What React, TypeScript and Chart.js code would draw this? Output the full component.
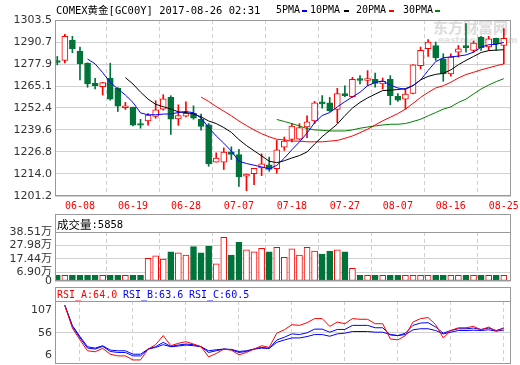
import React, { useEffect, useRef } from 'react';
import { Chart, registerables } from 'chart.js';

Chart.register(...registerables);

const dates = ['06-05','06-06','06-07','06-08','06-09','06-12','06-13','06-14','06-15','06-16','06-19','06-20','06-21','06-22','06-23','06-26','06-27','06-28','06-29','06-30','07-03','07-04','07-05','07-06','07-07','07-10','07-11','07-12','07-13','07-14','07-17','07-18','07-19','07-20','07-21','07-24','07-25','07-26','07-27','07-28','07-31','08-01','08-02','08-03','08-04','08-07','08-08','08-09','08-10','08-11','08-14','08-15','08-16','08-17','08-18','08-21','08-22','08-23','08-24','08-25'];
const tickDates = ['06-08','06-19','06-28','07-07','07-18','07-27','08-07','08-16','08-25'];

const openP = [1279.9,1280.0,1291.7,1285.4,1278.4,1266.7,1264.8,1269.6,1264.0,1252.6,
 1252.7,1243.3,1244.9,1247.4,1251.7,1258.5,1246.0,1247.6,1249.3,1245.8,
 1242.5,1220.9,1220.9,1226.9,1225.3,1212.7,1214.2,1217.5,1219.3,1217.1,
 1229.6,1234.1,1234.3,1241.3,1244.9,1255.9,1255.4,1251.5,1260.8,1258.9,
 1269.5,1268.4,1269.0,1266.3,1269.0,1259.1,1257.5,1260.8,1277.0,1286.8,
 1288.7,1280.9,1272.2,1284.8,1288.7,1285.8,1293.6,1287.8,1292.8,1288.7];
const highP = [1282.3,1295.2,1294.0,1287.8,1278.6,1269.6,1267.3,1278.4,1264.2,1255.6,
 1252.9,1245.8,1249.1,1256.6,1260.1,1259.5,1254.2,1256.0,1253.6,1248.8,
 1243.3,1226.3,1229.2,1229.8,1228.3,1214.0,1217.3,1225.7,1223.8,1233.5,
 1235.5,1243.3,1243.3,1247.8,1256.2,1259.5,1258.5,1263.8,1265.3,1270.2,
 1271.2,1274.1,1272.6,1269.8,1271.2,1260.8,1263.4,1277.6,1287.8,1292.1,
 1290.7,1283.9,1283.9,1288.7,1301.4,1291.3,1294.0,1294.0,1293.0,1298.5];
const lowP = [1277.4,1278.6,1284.5,1268.7,1264.4,1263.4,1259.9,1256.9,1250.3,1251.5,
 1242.0,1240.6,1242.3,1246.4,1251.1,1237.0,1242.3,1247.2,1245.8,1239.4,
 1218.5,1220.9,1216.6,1222.4,1206.8,1204.3,1207.8,1213.0,1215.6,1214.4,
 1227.7,1232.6,1233.9,1235.1,1243.3,1252.3,1250.3,1243.7,1258.9,1258.5,
 1266.3,1265.3,1264.4,1263.4,1254.2,1256.2,1251.7,1260.5,1275.1,1282.3,
 1280.0,1267.9,1270.8,1281.9,1284.8,1284.8,1285.8,1285.8,1285.8,1278.0];
const closeP = [1278.9,1294.0,1286.8,1278.0,1266.3,1265.3,1267.1,1257.5,1253.4,1253.6,
 1242.3,1242.3,1248.2,1251.3,1257.7,1245.8,1248.0,1249.3,1246.4,1241.7,
 1219.9,1223.2,1226.7,1225.3,1212.3,1214.0,1217.3,1219.9,1216.6,1228.1,
 1233.1,1241.9,1240.9,1244.3,1255.4,1254.7,1250.7,1260.7,1259.5,1269.0,
 1268.4,1269.5,1266.7,1267.9,1259.5,1256.9,1260.5,1277.4,1285.8,1290.7,
 1281.5,1272.2,1281.9,1286.8,1287.4,1290.1,1287.4,1292.6,1289.7,1292.8];

const ma5 = [null,null,null,null,1280.8,1278.0,1272.9,1267.3,1263.4,1259.9,
 1255.6,1249.5,1248.4,1248.4,1248.8,1248.9,1249.7,1250.3,1249.6,1246.5,
 1241.0,1236.1,1231.9,1227.3,1221.4,1220.1,1219.1,1218.1,1217.0,1219.0,
 1223.2,1228.1,1232.6,1237.8,1243.8,1248.0,1249.7,1253.0,1256.0,1258.8,
 1261.5,1265.3,1267.2,1268.1,1265.6,1264.0,1263.2,1265.3,1268.6,1274.2,
 1279.3,1281.5,1282.1,1282.5,1283.2,1284.8,1287.7,1289.1,1289.3,1290.5];
const ma10 = [null,null,null,null,null,null,null,null,null,1270.0,
 1266.3,1261.6,1257.5,1254.5,1253.1,1251.8,1250.1,1249.7,1248.9,1247.2,
 1244.8,1243.3,1241.0,1238.2,1234.0,1230.5,1227.5,1224.5,1221.4,1220.6,
 1221.7,1223.3,1224.7,1226.8,1231.4,1235.7,1239.3,1243.0,1247.9,1252.3,
 1255.6,1258.2,1260.4,1262.5,1262.7,1263.1,1263.6,1265.4,1268.7,1270.7,
 1271.9,1272.5,1274.5,1277.5,1280.0,1282.3,1284.6,1285.7,1286.0,1286.2];
const ma20 = [null,null,null,null,null,null,null,null,null,null,
 null,null,null,null,null,null,null,null,null,1258.7,
 1256.2,1253.2,1250.5,1247.8,1244.8,1242.1,1239.6,1237.4,1235.6,1234.2,
 1233.8,1233.1,1233.1,1232.7,1232.7,1232.7,1233.1,1233.5,1234.7,1236.1,
 1238.0,1240.0,1242.5,1244.9,1247.0,1249.1,1251.7,1255.0,1258.5,1261.4,
 1264.0,1265.3,1267.3,1269.8,1271.8,1273.1,1274.5,1275.7,1276.9,1278.0];
const ma30 = [null,null,null,null,null,null,null,null,null,null,
 null,null,null,null,null,null,null,null,null,null,
 null,null,null,null,null,null,null,null,null,1245.7,
 1244.5,1243.3,1241.9,1240.4,1239.6,1239.4,1239.0,1239.0,1239.0,1239.6,
 1240.6,1241.3,1241.9,1242.5,1242.9,1242.9,1243.3,1244.5,1245.8,1247.8,
 1249.7,1251.7,1253.0,1255.6,1257.5,1260.5,1263.4,1265.7,1267.7,1269.4];

// volume in 万 (10k)
const volume = [4.5,4.5,4.5,4.5,4.5,4.5,4.5,4.5,4.5,4.5,
 4.5,4.5,17.8,19.7,17.3,23.0,22.2,20.4,27.0,22.2,
 27.5,13.4,34.4,20.4,30.4,24.4,23.0,25.7,23.0,26.5,
 18.6,25.2,20.4,26.5,23.6,21.2,23.6,24.4,23.0,10.0,
 4.5,4.5,4.5,4.5,4.5,4.5,4.5,4.5,4.5,4.5,
 4.5,4.5,4.5,4.5,4.5,4.5,4.5,4.5,4.5,4.5];

const rsiA = [null,100,63.6,44.6,27.2,25.6,31.0,21.7,19.0,19.0,
 12.5,12.5,29.9,37.0,51.6,35.3,39.1,41.8,38.0,33.7,
 17.4,22.8,29.9,28.3,20.7,24.5,29.9,35.3,32.6,55.4,
 60.8,69.0,67.9,72.2,78.8,78.8,66.3,73.3,70.6,78.8,
 77.7,77.7,70.6,70.6,46.2,44.6,51.6,73.3,78.8,80.4,
 69.0,47.8,59.7,64.1,64.1,66.3,60.8,65.2,58.7,64.0];
const rsiB = [null,100,66.3,47.8,31.5,29.9,34.2,26.1,24.5,24.5,
 19.0,19.0,29.9,33.7,40.7,34.2,36.4,38.0,37.0,33.7,
 24.5,27.2,29.9,28.8,24.5,26.1,29.9,32.6,31.0,44.5,
 48.9,54.3,53.2,56.0,61.9,61.9,57.0,61.4,61.4,67.9,
 67.9,67.9,64.1,64.1,52.7,51.6,55.4,67.9,71.7,72.2,
 65.2,55.4,59.7,62.5,62.5,63.6,61.4,63.6,59.7,63.6];
const rsiC = [null,100,67.4,50.0,33.7,31.5,35.3,28.3,27.2,27.2,
 21.7,21.7,29.9,32.6,37.0,33.7,34.8,36.4,35.3,33.7,
 27.2,28.8,29.9,29.4,26.1,27.2,29.9,31.5,31.0,40.7,
 44.5,47.8,47.8,50.0,53.2,53.2,50.5,54.3,55.4,58.1,
 58.1,58.1,57.0,57.0,53.2,51.6,53.2,60.8,62.5,62.5,
 59.7,54.3,57.0,59.7,59.7,60.2,59.7,60.8,58.7,60.5];

const priceTicks = [1201.2,1214.0,1226.8,1239.6,1252.4,1265.1,1277.9,1290.7,1303.5];
const volTicks = [0,6.90,17.44,27.98,38.51];
const rsiTicks = [6,56,107];

const RED = '#FF0000';
const GREEN = '#00733A';
const GRID = '#D0D0D0';
const FRAME = '#999999';
const LABEL = '#333333';

const tickIdx = tickDates.map((d) => dates.indexOf(d));
const idx = dates.map((_, i) => i);
const isUp = idx.map((i) => closeP[i] >= openP[i]);

const framePlugin = {
  id: 'frame',
  afterDraw(chart: any) {
    const { ctx, chartArea: a } = chart;
    const l = Math.round(a.left), t = Math.round(a.top), r = Math.round(a.right), b = Math.round(a.bottom);
    ctx.save();
    ctx.strokeStyle = FRAME;
    ctx.lineWidth = 1;
    ctx.strokeRect(l + 0.5, t + 0.5, r - l - 1, b - t - 1);
    ctx.restore();
  },
};

const xScale = (showLabels: boolean) => ({
  type: 'linear',
  min: -0.3,
  max: 59.95,
  offset: false,
  afterBuildTicks: (s: any) => { s.ticks = tickIdx.map((v) => ({ value: v })); },
  afterFit: (s: any) => { s.height = showLabels ? 19 : 0; s.paddingLeft = 0; s.paddingRight = 0; },
  ticks: {
    display: showLabels,
    autoSkip: false,
    maxRotation: 0,
    padding: 4,
    color: RED,
    font: { family: 'DejaVu Sans Mono', size: 10 },
    callback: (v: any) => dates[v],
  },
  grid: { color: GRID, drawTicks: false, lineWidth: 1 },
  border: { display: false, dash: [4, 3] },
});

const yFit = (s: any) => { s.width = 55; s.paddingTop = 0; s.paddingBottom = 0; };

const baseOpts = (padding: any) => ({
  animation: false,
  responsive: false,
  maintainAspectRatio: false,
  devicePixelRatio: 1,
  events: [],
  layout: { padding },
  plugins: { legend: { display: false }, tooltip: { enabled: false }, title: { display: false } },
});

const line = (data: (number | null)[], color: string, order = 0) => ({
  type: 'line',
  data: idx.map((i) => ({ x: i, y: data[i] })),
  borderColor: color,
  borderWidth: 1,
  pointRadius: 0,
  tension: 0,
  spanGaps: false,
  order,
});

export default function App() {
  const mainRef = useRef<HTMLCanvasElement>(null);
  const volRef = useRef<HTMLCanvasElement>(null);
  const rsiRef = useRef<HTMLCanvasElement>(null);

  useEffect(() => {
    const charts: Chart[] = [];

    charts.push(new Chart(mainRef.current as HTMLCanvasElement, {
      type: 'bar',
      data: {
        datasets: [
          line(ma5, '#0000FF'),
          line(ma10, '#000000'),
          line(ma20, RED),
          line(ma30, '#008000'),
          {
            type: 'bar',
            data: idx.map((i) => ({ x: i, y: [openP[i], closeP[i]] })),
            backgroundColor: idx.map((i) => (isUp[i] ? '#FFFFFF' : GREEN)),
            borderColor: idx.map((i) => (isUp[i] ? RED : GREEN)),
            borderWidth: 1,
            borderSkipped: false,
            barThickness: 6,
            grouped: false,
            order: 1,
          },
          {
            type: 'bar',
            data: idx.map((i) => ({ x: i, y: [lowP[i], highP[i]] })),
            backgroundColor: idx.map((i) => (isUp[i] ? RED : GREEN)),
            borderWidth: 0,
            barThickness: 1,
            grouped: false,
            order: 2,
          },
        ] as any,
      },
      options: {
        ...baseOpts({ left: 0, right: 9, top: 20, bottom: 0 }),
        scales: {
          x: xScale(true),
          y: {
            min: 1201.2,
            max: 1303.5,
            afterBuildTicks: (s: any) => { s.ticks = priceTicks.map((v) => ({ value: v })); },
            afterFit: yFit,
            ticks: { autoSkip: false, color: LABEL, padding: 3, font: { family: 'DejaVu Sans', size: 11 }, callback: (v: any) => Number(v).toFixed(1) },
            grid: { color: GRID, drawTicks: false },
            border: { display: false },
          },
        },
      } as any,
      plugins: [framePlugin],
    }));

    charts.push(new Chart(volRef.current as HTMLCanvasElement, {
      type: 'bar',
      data: {
        datasets: [
          {
            data: idx.map((i) => ({ x: i, y: volume[i] })),
            backgroundColor: idx.map((i) => (isUp[i] ? '#FFFFFF' : GREEN)),
            borderColor: idx.map((i) => (isUp[i] ? RED : GREEN)),
            borderWidth: 1,
            borderSkipped: false,
            barThickness: 6,
            grouped: false,
          },
        ] as any,
      },
      options: {
        ...baseOpts({ left: 0, right: 9, top: 18, bottom: 9 }),
        scales: {
          x: xScale(false),
          y: {
            min: 0,
            max: 38.51,
            afterBuildTicks: (s: any) => { s.ticks = volTicks.map((v) => ({ value: v })); },
            afterFit: yFit,
            ticks: {
              autoSkip: false,
              color: LABEL, padding: 3,
              font: { family: '"DejaVu Sans", "Noto Sans CJK SC"', size: 11 },
              callback: (v: any) => (Number(v) === 0 ? '0' : Number(v).toFixed(2) + '万'),
            },
            grid: { color: GRID, drawTicks: false },
            border: { display: false },
          },
        },
      } as any,
      plugins: [framePlugin],
    }));

    charts.push(new Chart(rsiRef.current as HTMLCanvasElement, {
      type: 'line',
      data: {
        datasets: [
          line(rsiA, RED, 0),
          line(rsiB, '#0000FF', 1),
          line(rsiC, '#0000FF', 2),
        ] as any,
      },
      options: {
        ...baseOpts({ left: 0, right: 9, top: 17, bottom: 1 }),
        scales: {
          x: xScale(false),
          y: { display: false, min: 6, max: 107 },
          y2: {
            position: 'left',
            min: -12.8,
            max: 127,
            afterBuildTicks: (s: any) => { s.ticks = rsiTicks.map((v) => ({ value: v })); },
            afterFit: yFit,
            ticks: { autoSkip: false, color: LABEL, padding: 3, font: { family: 'DejaVu Sans', size: 11 }, callback: (v: any) => String(v) },
            grid: {
              drawTicks: false,
              color: (ctx: any) => (ctx.tick && ctx.tick.value === 56 ? GRID : 'rgba(0,0,0,0)'),
            },
            border: { display: false },
          },
        },
      } as any,
      plugins: [framePlugin],
    }));

    return () => { charts.forEach((c) => c.destroy()); };
  }, []);

  const mono = '"DejaVu Sans Mono", "Noto Sans CJK SC", monospace';
  const abs = (left: number, top: number, extra: any = {}) => ({ position: 'absolute' as const, left, top, whiteSpace: 'nowrap' as const, ...extra });
  const dash = (left: number, color: string) => (
    <div style={abs(left, 10, { width: 5, height: 2, background: color })} />
  );

  return (
    <div style={{ position: 'absolute', left: 0, top: 0, width: 520, height: 365, background: '#FFFFFF', overflow: 'hidden', fontFamily: mono }}>
      <div style={abs(433, 18, { fontFamily: '"Noto Sans CJK SC"', fontWeight: 700, fontSize: 15, lineHeight: '18px', color: '#DCDCDC' })}>东方财富网</div>
      <div style={abs(438, 35, { fontFamily: '"DejaVu Sans"', fontWeight: 700, fontSize: 9, lineHeight: '10px', color: '#E2E2E2' })}>eastmoney.com</div>

      <canvas ref={mainRef} width={520} height={215} style={{ position: 'absolute', left: 0, top: 0 }} />
      <canvas ref={volRef} width={520} height={76} style={{ position: 'absolute', left: 0, top: 214 }} />
      <canvas ref={rsiRef} width={520} height={81} style={{ position: 'absolute', left: 0, top: 284 }} />

      <div style={abs(56, 4, { fontSize: 10.5, lineHeight: '12px', color: '#000' })}>COMEX黄金[GC00Y] 2017-08-26 02:31</div>
      <div style={abs(276, 4, { fontSize: 10, lineHeight: '12px', color: '#000' })}>5PMA</div>
      {dash(302, '#0000FF')}
      <div style={abs(310, 4, { fontSize: 10, lineHeight: '12px', color: '#000' })}>10PMA</div>
      {dash(344, '#000000')}
      <div style={abs(356, 4, { fontSize: 10, lineHeight: '12px', color: '#000' })}>20PMA</div>
      {dash(389, RED)}
      <div style={abs(403, 4, { fontSize: 10, lineHeight: '12px', color: '#000' })}>30PMA</div>
      {dash(435, '#008000')}

      <div style={abs(55, 214, { width: 456, height: 19, boxSizing: 'border-box', border: `1px solid ${FRAME}`, display: 'flex', alignItems: 'center', paddingLeft: 1 })}>
        <span style={{ fontFamily: '"Noto Sans CJK SC"', fontSize: 11.5, lineHeight: '14px', color: '#000' }}>成交量</span>
        <span style={{ fontSize: 10.5, lineHeight: '14px', color: '#000' }}>:5858</span>
      </div>

      <div style={abs(55, 287, { width: 456, height: 15, boxSizing: 'border-box', border: `1px solid ${FRAME}` })} />
      <div style={abs(57, 288, { fontSize: 10, lineHeight: '13px', color: RED })}>RSI_A:64.0</div>
      <div style={abs(123, 288, { fontSize: 10, lineHeight: '13px', color: '#0000FF' })}>RSI_B:63.6</div>
      <div style={abs(189, 288, { fontSize: 10, lineHeight: '13px', color: '#0000FF' })}>RSI_C:60.5</div>
    </div>
  );
}
